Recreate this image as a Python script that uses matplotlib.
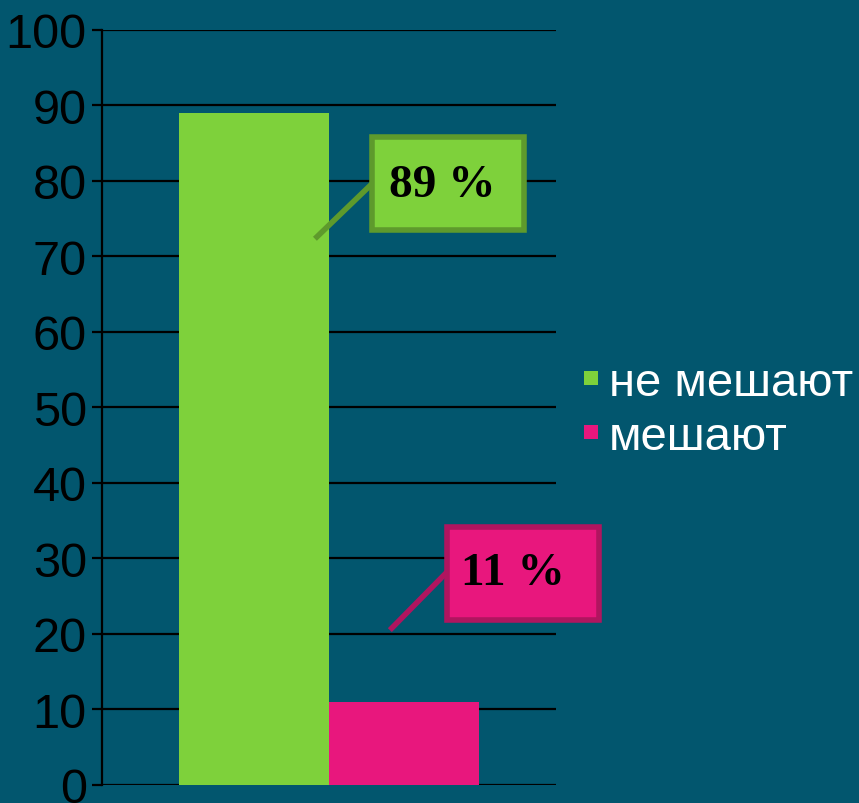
import matplotlib.pyplot as plt
from matplotlib.patches import Patch, Rectangle

# data
series = ["не мешают", "мешают"]
values = [89, 11]
labels = ["89 %", "11 %"]
colors = ["#7ed13b", "#e8177d"]
edge_colors = ["#5e9a2c", "#b0155f"]
yticks = list(range(0, 101, 10))

bg = "#02566e"
plt.rcParams["font.family"] = ["Liberation Sans", "DejaVu Sans"]

fig = plt.figure(figsize=(8.59, 8.04), dpi=100, facecolor=bg)
ax = fig.add_axes([102 / 859, 1 - 786 / 804, 454 / 859, (786 - 30.5) / 804])
ax.set_facecolor(bg)

width = 0.33
offsets = [-width / 2, width / 2]
for off, v, c, s in zip(offsets, values, colors, series):
    ax.bar(off, v, width=width, color=c, label=s, zorder=3)

ax.set_xlim(-0.5, 0.5)
ax.set_ylim(0, 100)
ax.set_yticks(yticks)
ax.set_xticks([])
ax.yaxis.grid(True, color="black", linewidth=1.6, zorder=0)
ax.tick_params(axis="y", direction="out", length=7, width=1.6, color="black",
               labelsize=35, labelcolor="black", pad=4)
for side in ["top", "right", "bottom"]:
    ax.spines[side].set_visible(False)
ax.spines["left"].set_color("black")
ax.spines["left"].set_linewidth(1.6)

# callouts: (box x0, box x1, box y0, box y1), leader start, leader end, text pos
boxes = [(0.095, 0.430, 73.5, 85.8), (0.260, 0.595, 21.8, 34.1)]
leader_start = [(-0.031, 72.3), (0.134, 20.5)]
leader_end = [(0.095, 79.6), (0.265, 28.5)]
text_pos = [(0.250, 79.4), (0.405, 28.0)]

for i in range(2):
    x0, x1, y0, y1 = boxes[i]
    ax.plot([leader_start[i][0], leader_end[i][0]],
            [leader_start[i][1], leader_end[i][1]],
            color=edge_colors[i], linewidth=4, zorder=4, clip_on=False,
            solid_capstyle="butt")
    ax.add_patch(Rectangle((x0, y0), x1 - x0, y1 - y0, facecolor=colors[i],
                           edgecolor=edge_colors[i], linewidth=4, zorder=5,
                           clip_on=False))
    ax.text(text_pos[i][0], text_pos[i][1], labels[i], ha="center", va="center",
            fontsize=34, fontweight="bold", family="Liberation Serif",
            color="black", zorder=6, clip_on=False)

handles = [Patch(facecolor=c, edgecolor="none") for c in colors]
fig.legend(handles, series, loc="center left", bbox_to_anchor=(584 / 859, 1 - 411 / 804),
           frameon=False, fontsize=34, labelcolor="white",
           handlelength=0.3, handleheight=0.08, handletextpad=0.22,
           labelspacing=0.22, borderpad=0, borderaxespad=0)

plt.savefig("out.png", dpi=100, facecolor=bg)
